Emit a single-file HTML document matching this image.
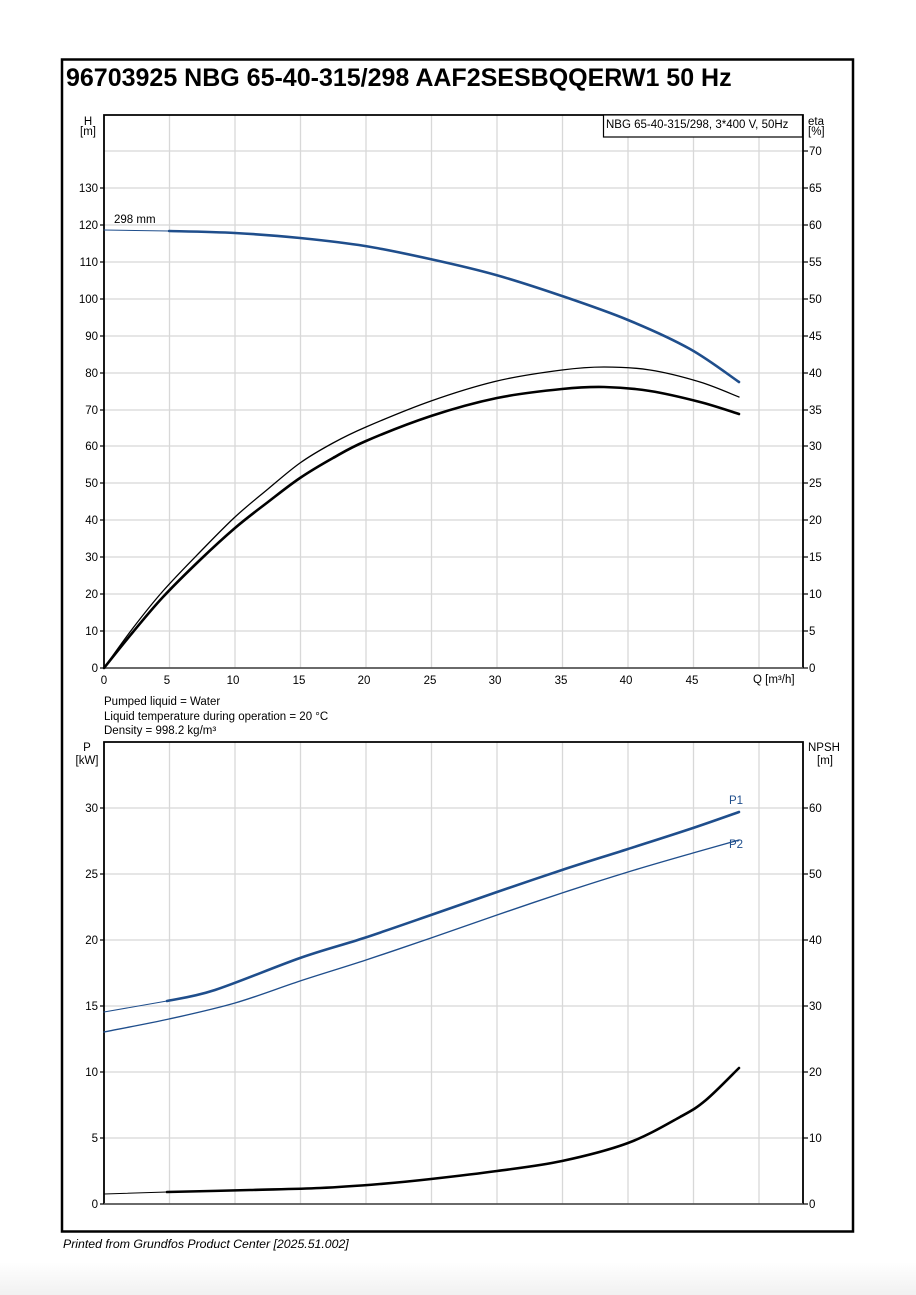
<!DOCTYPE html>
<html><head><meta charset="utf-8"><style>
html,body{margin:0;padding:0;background:#fff;}
body{width:916px;height:1295px;overflow:hidden;background:linear-gradient(#fff 1262px,#f1f1f1 1295px);}
svg{position:absolute;left:0;top:0;}
text{font-family:"Liberation Sans",sans-serif;fill:#000;}
</style></head><body>
<svg width="916" height="1295" viewBox="0 0 916 1295">
<rect x="62" y="59.5" width="791" height="1172" fill="#fff" stroke="#000" stroke-width="2.5"/>
<text x="66" y="86" font-size="25" font-weight="bold">96703925 NBG 65-40-315/298 AAF2SESBQQERW1 50 Hz</text>
<g stroke="#d8d8d8" stroke-width="1.3">
<line x1="169.5" y1="115" x2="169.5" y2="668"/><line x1="235" y1="115" x2="235" y2="668"/><line x1="300.5" y1="115" x2="300.5" y2="668"/><line x1="366" y1="115" x2="366" y2="668"/><line x1="431.5" y1="115" x2="431.5" y2="668"/><line x1="497" y1="115" x2="497" y2="668"/><line x1="562.5" y1="115" x2="562.5" y2="668"/><line x1="628" y1="115" x2="628" y2="668"/><line x1="693.5" y1="115" x2="693.5" y2="668"/><line x1="759" y1="115" x2="759" y2="668"/>
<line x1="104" y1="631" x2="803" y2="631"/><line x1="104" y1="594" x2="803" y2="594"/><line x1="104" y1="557" x2="803" y2="557"/><line x1="104" y1="520" x2="803" y2="520"/><line x1="104" y1="483" x2="803" y2="483"/><line x1="104" y1="446" x2="803" y2="446"/><line x1="104" y1="410" x2="803" y2="410"/><line x1="104" y1="373" x2="803" y2="373"/><line x1="104" y1="336" x2="803" y2="336"/><line x1="104" y1="299" x2="803" y2="299"/><line x1="104" y1="262" x2="803" y2="262"/><line x1="104" y1="225" x2="803" y2="225"/><line x1="104" y1="188" x2="803" y2="188"/><line x1="104" y1="151" x2="803" y2="151"/>
<line x1="169.5" y1="742" x2="169.5" y2="1204"/><line x1="235" y1="742" x2="235" y2="1204"/><line x1="300.5" y1="742" x2="300.5" y2="1204"/><line x1="366" y1="742" x2="366" y2="1204"/><line x1="431.5" y1="742" x2="431.5" y2="1204"/><line x1="497" y1="742" x2="497" y2="1204"/><line x1="562.5" y1="742" x2="562.5" y2="1204"/><line x1="628" y1="742" x2="628" y2="1204"/><line x1="693.5" y1="742" x2="693.5" y2="1204"/><line x1="759" y1="742" x2="759" y2="1204"/>
<line x1="104" y1="1138" x2="803" y2="1138"/><line x1="104" y1="1072" x2="803" y2="1072"/><line x1="104" y1="1006" x2="803" y2="1006"/><line x1="104" y1="940" x2="803" y2="940"/><line x1="104" y1="874" x2="803" y2="874"/><line x1="104" y1="808" x2="803" y2="808"/>
</g>
<g fill="none" stroke="#000">
<path d="M104,668V115H803V668" stroke-width="1.8"/>
<line x1="104" y1="668" x2="803" y2="668" stroke="#555" stroke-width="1.8"/>
<path d="M104,1204V742H803V1204" stroke-width="1.8"/>
<line x1="104" y1="1204" x2="803" y2="1204" stroke="#555" stroke-width="1.8"/>
</g>
<g stroke="#000" stroke-width="1.2">
<line x1="100" y1="668" x2="104" y2="668"/><line x1="100" y1="631" x2="104" y2="631"/><line x1="100" y1="594" x2="104" y2="594"/><line x1="100" y1="557" x2="104" y2="557"/><line x1="100" y1="520" x2="104" y2="520"/><line x1="100" y1="483" x2="104" y2="483"/><line x1="100" y1="446" x2="104" y2="446"/><line x1="100" y1="410" x2="104" y2="410"/><line x1="100" y1="373" x2="104" y2="373"/><line x1="100" y1="336" x2="104" y2="336"/><line x1="100" y1="299" x2="104" y2="299"/><line x1="100" y1="262" x2="104" y2="262"/><line x1="100" y1="225" x2="104" y2="225"/><line x1="100" y1="188" x2="104" y2="188"/>
<line x1="803" y1="668" x2="808" y2="668"/><line x1="803" y1="631" x2="808" y2="631"/><line x1="803" y1="594" x2="808" y2="594"/><line x1="803" y1="557" x2="808" y2="557"/><line x1="803" y1="520" x2="808" y2="520"/><line x1="803" y1="483" x2="808" y2="483"/><line x1="803" y1="446" x2="808" y2="446"/><line x1="803" y1="410" x2="808" y2="410"/><line x1="803" y1="373" x2="808" y2="373"/><line x1="803" y1="336" x2="808" y2="336"/><line x1="803" y1="299" x2="808" y2="299"/><line x1="803" y1="262" x2="808" y2="262"/><line x1="803" y1="225" x2="808" y2="225"/><line x1="803" y1="188" x2="808" y2="188"/><line x1="803" y1="151" x2="808" y2="151"/>
<line x1="100" y1="1204" x2="104" y2="1204"/><line x1="100" y1="1138" x2="104" y2="1138"/><line x1="100" y1="1072" x2="104" y2="1072"/><line x1="100" y1="1006" x2="104" y2="1006"/><line x1="100" y1="940" x2="104" y2="940"/><line x1="100" y1="874" x2="104" y2="874"/><line x1="100" y1="808" x2="104" y2="808"/>
<line x1="803" y1="1204" x2="808" y2="1204"/><line x1="803" y1="1138" x2="808" y2="1138"/><line x1="803" y1="1072" x2="808" y2="1072"/><line x1="803" y1="1006" x2="808" y2="1006"/><line x1="803" y1="940" x2="808" y2="940"/><line x1="803" y1="874" x2="808" y2="874"/><line x1="803" y1="808" x2="808" y2="808"/>
</g>
<g font-size="11.5" text-anchor="end">
<text x="98" y="672">0</text><text x="98" y="635">10</text><text x="98" y="598">20</text><text x="98" y="561">30</text><text x="98" y="524">40</text><text x="98" y="487">50</text><text x="98" y="450">60</text><text x="98" y="414">70</text><text x="98" y="377">80</text><text x="98" y="340">90</text><text x="98" y="303">100</text><text x="98" y="266">110</text><text x="98" y="229">120</text><text x="98" y="192">130</text>
<text x="98" y="1208">0</text><text x="98" y="1142">5</text><text x="98" y="1076">10</text><text x="98" y="1010">15</text><text x="98" y="944">20</text><text x="98" y="878">25</text><text x="98" y="812">30</text>
</g>
<g font-size="11.5">
<text x="809" y="672">0</text><text x="809" y="635">5</text><text x="809" y="598">10</text><text x="809" y="561">15</text><text x="809" y="524">20</text><text x="809" y="487">25</text><text x="809" y="450">30</text><text x="809" y="414">35</text><text x="809" y="377">40</text><text x="809" y="340">45</text><text x="809" y="303">50</text><text x="809" y="266">55</text><text x="809" y="229">60</text><text x="809" y="192">65</text><text x="809" y="155">70</text>
<text x="809" y="1208">0</text><text x="809" y="1142">10</text><text x="809" y="1076">20</text><text x="809" y="1010">30</text><text x="809" y="944">40</text><text x="809" y="878">50</text><text x="809" y="812">60</text>
<text x="808" y="125">eta</text><text x="808" y="135">[%]</text>
<text x="808" y="751">NPSH</text><text x="817" y="764">[m]</text>
<text x="753" y="683">Q [m³/h]</text>
<text x="114" y="223">298 mm</text>
<text x="104" y="705">Pumped liquid = Water</text>
<text x="104" y="720">Liquid temperature during operation = 20 °C</text>
<text x="104" y="734">Density = 998.2 kg/m³</text>
<text x="729" y="804" style="fill:#1f4e8c">P1</text>
<text x="729" y="848" style="fill:#1f4e8c">P2</text>
</g>
<g font-size="11.5" text-anchor="middle">
<text x="104" y="684">0</text><text x="167" y="684">5</text><text x="233" y="684">10</text><text x="299" y="684">15</text><text x="364" y="684">20</text><text x="430" y="684">25</text><text x="495" y="684">30</text><text x="561" y="684">35</text><text x="626" y="684">40</text><text x="692" y="684">45</text>
<text x="88" y="125">H</text><text x="88" y="135">[m]</text>
<text x="87" y="751">P</text><text x="87" y="764">[kW]</text>
</g>
<rect x="603.5" y="115" width="199" height="22" fill="#fff" stroke="#000" stroke-width="1.2"/>
<text x="606" y="128" font-size="11.5">NBG 65-40-315/298, 3*400 V, 50Hz</text>
<g fill="none" stroke-linecap="round" stroke-linejoin="round">
<path d="M104,230 L169,231" stroke="#1f4e8c" stroke-width="1"/>
<path id="h" stroke="#1f4e8c" stroke-width="2.6" d="M169,231 L739,382"/>
<path id="e1" stroke="#000" stroke-width="1.3" d="M104,668 L739,397"/>
<path id="e2" stroke="#000" stroke-width="2.6" d="M104,668 L739,414"/>
<path d="M104,1012 L167,1001" stroke="#1f4e8c" stroke-width="1"/>
<path id="p1" stroke="#1f4e8c" stroke-width="2.6" d="M167,1001 L739,812"/>
<path id="p2" stroke="#1f4e8c" stroke-width="1.4" d="M104,1032 L739,840"/>
<path d="M104,1194 L167,1192" stroke="#000" stroke-width="1"/>
<path id="n" stroke="#000" stroke-width="2.6" d="M167,1192 L739,1068"/>
</g>
<text x="63" y="1248" font-size="12.3" font-style="italic">Printed from Grundfos Product Center [2025.51.002]</text>
</svg>
<script>
function cr(p){var d="M"+p[0][0]+","+p[0][1];for(var i=0;i<p.length-1;i++){var a=p[i-1]||p[i],b=p[i],c=p[i+1],e=p[i+2]||c;d+=" C"+(b[0]+(c[0]-a[0])/6).toFixed(1)+","+(b[1]+(c[1]-a[1])/6).toFixed(1)+" "+(c[0]-(e[0]-b[0])/6).toFixed(1)+","+(c[1]-(e[1]-b[1])/6).toFixed(1)+" "+c[0]+","+c[1];}return d;}
var S={
h:[[169,231],[235,233],[300,238],[365,246],[430,259],[496,275],[562,296],[628,320],[690,349],[739,382]],
e1:[[104,668],[133,628],[163,591],[200,552],[235,517],[268,489],[300,463],[333,443],[366,427],[431,401],[497,381],[562,370],[604,367],[650,370],[700,382],[739,397]],
e2:[[104,668],[133,632],[163,597],[200,560],[235,528],[268,502],[300,478],[333,458],[366,441],[431,416],[497,398],[562,389],[604,387],[650,391],[700,402],[739,414]],
p1:[[167,1001],[215,990],[300,958],[364,938],[431,915],[497,892],[562,870],[628,849],[693,828],[739,812]],
p2:[[104,1032],[169,1019],[235,1003],[300,981],[366,960],[431,938],[497,915],[562,893],[628,872],[693,853],[739,840]],
n:[[167,1192],[250,1190],[320,1188],[380,1184],[431,1179],[497,1171],[562,1161],[628,1143],[680,1117],[706,1100],[739,1068]]};
for(var k in S)document.getElementById(k).setAttribute("d",cr(S[k]));
</script>
</body></html>
